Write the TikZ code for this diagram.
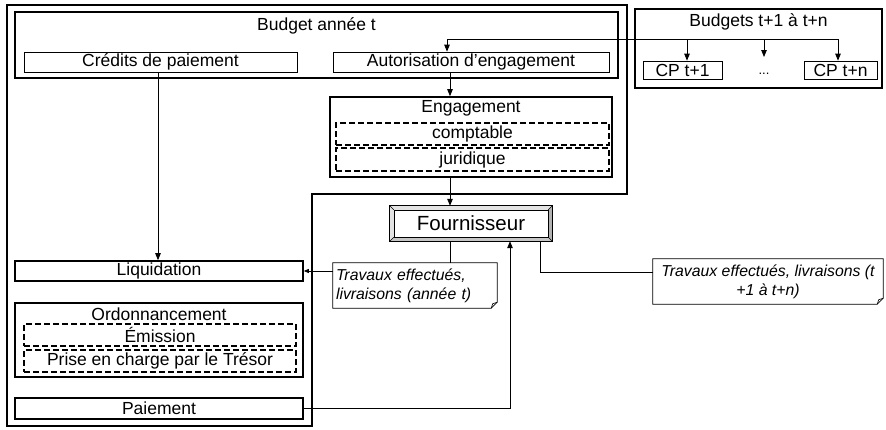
\documentclass[tikz,border=0pt]{standalone}
\usepackage{fontspec}
\setmainfont{Liberation Sans}
\usetikzlibrary{arrows.meta,calc}
\begin{document}
\begin{tikzpicture}[x=1pt,y=-1pt,
  every node/.style={inner sep=0pt, font=\fontsize{17.5}{20}\selectfont},
  outerline/.style={line width=1.6pt},
  thickbox/.style={draw, line width=1.6pt},
  thinbox/.style={draw, line width=0.7pt},
  dashbox/.style={draw, line width=1.4pt, dash pattern=on 6pt off 3pt},
  heading/.style={},
  notetext/.style={font=\fontsize{15.8}{19}\selectfont\itshape},
  link/.style={line width=0.8pt},
  arr/.style={link, -{Triangle[length=7pt,width=5.5pt]}},
  smallarr/.style={link, -{Triangle[length=5pt,width=4pt]}},
  notebox/.style={draw, line width=0.7pt, fill=white}
]
\useasboundingbox (0,0) rectangle (886,429);

% frame around everything that happens in year t
\draw[outerline] (7,5) -- (627,5) -- (627,194) -- (312,194) -- (312,426) -- (7,426) -- cycle;

% budget of year t
\node[thickbox, minimum width=603, minimum height=66] (budget) at (316.5,45) {};
\node[heading] (budgettitle) at (316.5,26) {Budget année t};
\node[thinbox, minimum width=273, minimum height=20] (credits) at (160.5,62) {Crédits de paiement};
\node[thinbox, minimum width=276, minimum height=20] (autor) at (471,62) {Autorisation d'engagement};

% commitment
\node[thickbox, minimum width=282, minimum height=80] (eng) at (471,137) {};
\node[heading] (engtitle) at (471,108) {Engagement};
\node[dashbox, minimum width=273, minimum height=22] (compt) at (472.5,134) {comptable};
\node[dashbox, minimum width=273, minimum height=23] (jur) at (472.5,159.5) {juridique};

% later budgets
\node[thickbox, minimum width=247, minimum height=79] (later) at (758.5,48.5) {};
\node[heading] (latertitle) at (758.5,22) {Budgets t+1 à t+n};
\node[thinbox, minimum width=79, minimum height=18] (cp1) at (682.5,70) {CP t+1};
\node[thinbox, minimum width=73, minimum height=18] (cpn) at (840.5,70) {CP t+n};
\node[font=\fontsize{13}{15}\selectfont] (dots) at (764,74) {...};

% supplier (bevelled frame)
\node[minimum width=162, minimum height=35] (fourn) at (471,223.5) {};
\fill[gray!22] (fourn.north west) -- (fourn.north east) -- ($(fourn.north east)+(-4,4)$) -- ($(fourn.north west)+(4,4)$) -- cycle;
\fill[gray!22] (fourn.north west) -- ($(fourn.north west)+(4,4)$) -- ($(fourn.south west)+(4,-4)$) -- (fourn.south west) -- cycle;
\fill[gray!60] (fourn.north east) -- (fourn.south east) -- ($(fourn.south east)+(-4,-4)$) -- ($(fourn.north east)+(-4,4)$) -- cycle;
\fill[gray!45] (fourn.south west) -- (fourn.south east) -- ($(fourn.south east)+(-4,-4)$) -- ($(fourn.south west)+(4,-4)$) -- cycle;
\draw[line width=0.7pt] (fourn.north west) rectangle (fourn.south east);
\draw[line width=0.6pt] ($(fourn.north west)+(4,4)$) rectangle ($(fourn.south east)+(-4,-4)$);
\draw[line width=0.4pt] (fourn.north west) -- ++(4,4) (fourn.north east) -- ++(-4,4)
  (fourn.south west) -- ++(4,-4) (fourn.south east) -- ++(-4,-4);
\node[font=\fontsize{20.5}{24}\selectfont] (fourntext) at (fourn.center) {Fournisseur};

% steps of year t
\node[thickbox, minimum width=288, minimum height=20] (liq) at (159,271) {Liquidation};
\node[thickbox, minimum width=288, minimum height=74] (ordo) at (159,340) {};
\node[heading] (ordotitle) at (159,314) {Ordonnancement};
\node[dashbox, minimum width=272, minimum height=22] (emis) at (160,335) {Émission};
\node[dashbox, minimum width=272, minimum height=22] (prise) at (160,361) {Prise en charge par le Trésor};
\node[thickbox, minimum width=288, minimum height=21] (paie) at (159,408.5) {Paiement};

% notes with a folded corner
\node[minimum width=164, minimum height=45] (note1) at (415,285.5) {};
\node[minimum width=230, minimum height=45] (note2) at (768,281.5) {};
\foreach \n in {note1,note2}{
  \draw[notebox] (\n.north west) -- (\n.north east) -- ($(\n.south east)+(0,-6)$)
    -- ($(\n.south east)+(-6,0)$) -- (\n.south west) -- cycle;
  \draw[line width=0.6pt] ($(\n.south east)+(-6,0)$) -- ($(\n.south east)+(-4.5,-4.5)$) -- ($(\n.south east)+(0,-6)$);
}
\node[notetext, text width=158pt, align=left] (note1text) at (note1.center) {Travaux effectués,\\livraisons (année t)};
\node[notetext, align=center] (note2text) at (note2.center) {Travaux effectués, livraisons (t\\+1 à t+n)};

% connector columns and rows
\coordinate (spine) at (450,0);
\coordinate (paycol) at (510,0);
\coordinate (latecol) at (540,0);
\coordinate (laterow) at (0,272);
\coordinate (busL) at (447,39);
\coordinate (busR) at (838,39);
\coordinate (col1) at (687,0);
\coordinate (coldots) at (764,0);
\coordinate (dotstop) at (764,57);

% connectors
\draw[arr] (credits.south -| 158,0) -- (liq.north -| 158,0);
\draw[arr] (autor.south -| spine) -- (eng.north -| spine);
\draw[arr] (eng.south -| spine) -- (fourn.north -| spine);
\draw[link] (fourn.south -| spine) -- (note1.north -| spine);
\draw[smallarr] (note1.west |- liq.east) -- (liq.east);
\draw[arr] (paie.east) -| (fourn.south -| paycol);
\draw[link] (fourn.south -| latecol) |- (note2.west |- laterow);

% spreading the commitment over the budgets
\draw[link] (busL) -- (busR);
\draw[arr] (busL) -- (autor.north -| busL);
\draw[arr] (busL -| col1) -- (cp1.north -| col1);
\draw[arr] (busL -| coldots) -- (dotstop);
\draw[arr] (busR) -- (cpn.north -| busR);
\end{tikzpicture}
\end{document}
